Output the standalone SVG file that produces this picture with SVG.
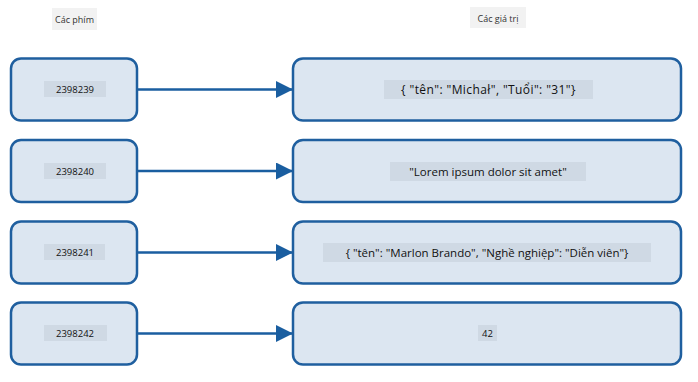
<svg xmlns="http://www.w3.org/2000/svg" width="698" height="382" viewBox="0 0 698 382">
<style>
.box{fill:#dce6f1;stroke:#1f5f9f;stroke-width:2.5}
.lbl{fill:#cfd9e4}
.hdr{fill:#f2f2f2}
.t{font-family:"Open Sans","Noto Sans",sans-serif;fill:#111;text-anchor:middle;dominant-baseline:central}
.k{font-size:9.5px}
.v{font-size:11.5px}
.h{font-size:9px;fill:#333}
.c{stroke:#1a5ea0;stroke-width:2.5;fill:none}
</style>
<defs>
<marker id="a" markerWidth="17" markerHeight="17" viewBox="0 0 17 17" refX="17" refY="8.5" orient="auto" markerUnits="userSpaceOnUse">
<path d="M0,0 L17,8.5 L0,17 Z" fill="#1a5ea0"/>
</marker>
</defs>
<g id="header-keys">
<rect class="hdr" x="52" y="8" width="45" height="22"/>
<text class="t h" x="74.5" y="19">Các phím</text>
</g>
<g id="header-values">
<rect class="hdr" x="470" y="7" width="56" height="21"/>
<text class="t h" x="498" y="18">Các giá trị</text>
</g>
<g id="connectors">
<line class="c" x1="137" y1="89.5" x2="293" y2="89.5" marker-end="url(#a)"/>
<line class="c" x1="137" y1="171" x2="293" y2="171" marker-end="url(#a)"/>
<line class="c" x1="137" y1="252.5" x2="293" y2="252.5" marker-end="url(#a)"/>
<line class="c" x1="137" y1="333.5" x2="293" y2="333.5" marker-end="url(#a)"/>
</g>
<g id="key1">
<rect class="box" x="11" y="58.5" width="126" height="62" rx="10"/>
<rect class="lbl" x="44" y="81" width="62" height="16"/>
<text class="t k" x="75" y="89">2398239</text>
</g>
<g id="key2">
<rect class="box" x="11" y="140" width="126" height="62" rx="10"/>
<rect class="lbl" x="44" y="163" width="62" height="16"/>
<text class="t k" x="75" y="171">2398240</text>
</g>
<g id="key3">
<rect class="box" x="11" y="221.5" width="126" height="62" rx="10"/>
<rect class="lbl" x="44" y="244" width="61" height="16"/>
<text class="t k" x="75" y="252">2398241</text>
</g>
<g id="key4">
<rect class="box" x="11" y="302.5" width="126" height="62" rx="10"/>
<rect class="lbl" x="44" y="325" width="63" height="16"/>
<text class="t k" x="75" y="333">2398242</text>
</g>
<g id="val1">
<rect class="box" x="293" y="58.5" width="388" height="62" rx="10"/>
<rect class="lbl" x="384" y="80" width="209" height="19"/>
<text class="t" style="font-size:12px;letter-spacing:0.4px" x="488.5" y="89.5">{ "tên": "Michał", "Tuổi": "31"}</text>
</g>
<g id="val2">
<rect class="box" x="293" y="140" width="388" height="62" rx="10"/>
<rect class="lbl" x="390" y="162" width="196" height="19"/>
<text class="t v" x="488" y="171">"Lorem ipsum dolor sit amet"</text>
</g>
<g id="val3">
<rect class="box" x="293" y="221.5" width="388" height="62" rx="10"/>
<rect class="lbl" x="323" y="243" width="328" height="19"/>
<text class="t v" x="487" y="252.5">{ "tên": "Marlon Brando", "Nghề nghiệp": "Diễn viên"}</text>
</g>
<g id="val4">
<rect class="box" x="293" y="302.5" width="388" height="62" rx="10"/>
<rect class="lbl" x="478" y="325" width="19" height="16"/>
<text class="t k" x="487.5" y="333">42</text>
</g>
</svg>
